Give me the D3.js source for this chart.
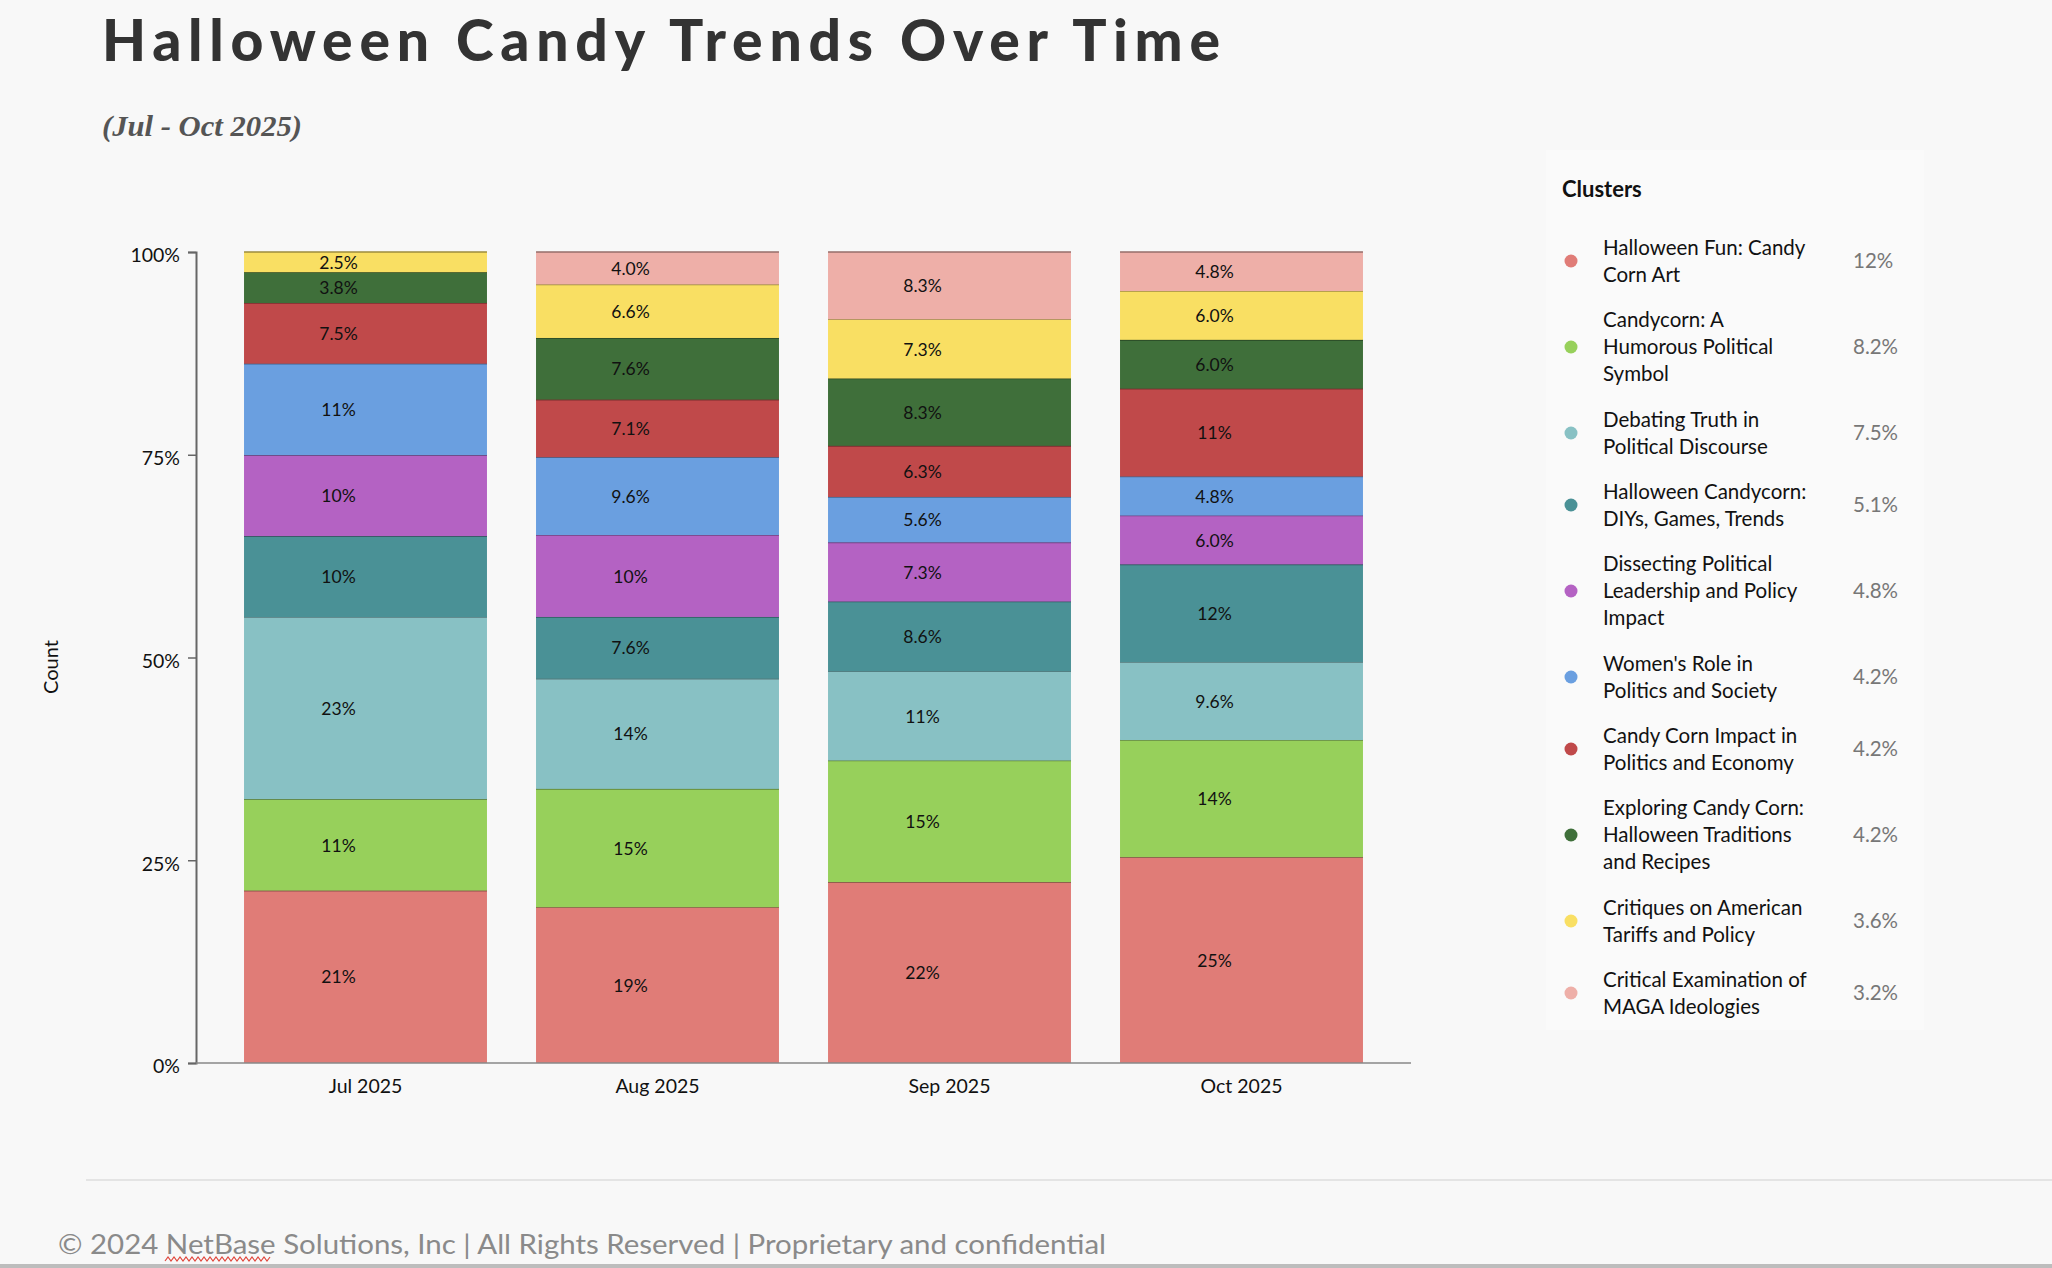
<!DOCTYPE html>
<html>
<head>
<meta charset="utf-8">
<title>Halloween Candy Trends Over Time</title>
<script src="https://cdn.jsdelivr.net/npm/d3@7"></script>
<style>
  body { margin: 0; background: #f8f8f8; }
  svg { display: block; }
</style>
</head>
<body>
<script>
var months = ["Jul 2025", "Aug 2025", "Sep 2025", "Oct 2025"];

// bottom to top, same order as the legend
var clusters = [
  "Halloween Fun: Candy Corn Art",
  "Candycorn: A Humorous Political Symbol",
  "Debating Truth in Political Discourse",
  "Halloween Candycorn: DIYs, Games, Trends",
  "Dissecting Political Leadership and Policy Impact",
  "Women's Role in Politics and Society",
  "Candy Corn Impact in Politics and Economy",
  "Exploring Candy Corn: Halloween Traditions and Recipes",
  "Critiques on American Tariffs and Policy",
  "Critical Examination of MAGA Ideologies"
];
var colors = ["#e07c77", "#97d05b", "#88c1c4", "#4a9196", "#b462c3",
              "#6a9fe0", "#c0494a", "#3f6f3a", "#f9df63", "#eeafa8"];

// percent of each month, one entry per cluster
var julValues = [21.3, 11.3, 22.5, 10.0, 10.0, 11.3, 7.5, 3.8, 2.5, 0];
var augValues = [19.2, 14.6, 13.6, 7.6, 10.1, 9.6, 7.1, 7.6, 6.6, 4.0];
var sepValues = [22.3, 15.0, 11.0, 8.6, 7.3, 5.6, 6.3, 8.3, 7.3, 8.3];
var octValues = [25.3, 14.4, 9.6, 12.0, 6.0, 4.8, 10.8, 6.0, 6.0, 4.8];
var monthValues = [julValues, augValues, sepValues, octValues];

// overall share shown in the legend
var clusterShare = [12, 8.2, 7.5, 5.1, 4.8, 4.2, 4.2, 4.2, 3.6, 3.2];
var yTicks = [0, 0.25, 0.5, 0.75, 1];

var W = 2052, H = 1268;
var svg = d3.select("body")
  .append("svg")
  .attr("width", W)
  .attr("height", H);

svg.append("rect").attr("width", W).attr("height", H).attr("fill", "#f8f8f8");

// title
svg.append("text")
  .attr("x", 102).attr("y", 61)
  .attr("textLength", 1118).attr("lengthAdjust", "spacing")
  .style("font-family", "Lato, 'DejaVu Sans', sans-serif")
  .style("font-weight", 900)
  .style("font-size", "57px")
  .attr("fill", "#333")
  .text("Halloween Candy Trends Over Time");

svg.append("text")
  .attr("x", 102).attr("y", 136)
  .attr("textLength", 200).attr("lengthAdjust", "spacingAndGlyphs")
  .style("font-family", "'Liberation Serif', serif")
  .style("font-weight", "bold")
  .style("font-style", "italic")
  .style("font-size", "29px")
  .attr("fill", "#555")
  .text("(Jul - Oct 2025)");

// stacked data
var table = months.map(function(m, i) {
  var row = { month: m };
  clusters.forEach(function(c, j) { row[c] = monthValues[i][j]; });
  return row;
});
var series = d3.stack().keys(clusters).offset(d3.stackOffsetExpand)(table);

var x = d3.scaleBand().domain(months).range([219.5, 1387.5])
  .paddingInner(0.168).paddingOuter(0.084);
var y = d3.scaleLinear().domain([0, 1]).range([1063, 252]);
var color = d3.scaleOrdinal().domain(clusters).range(colors);
var pct = d3.format(".2r");

var chart = svg.append("g").style("font-family", "Lato, 'Open Sans', sans-serif");

var layer = chart.selectAll("g.layer")
  .data(series)
  .enter()
  .append("g")
  .attr("class", "layer")
  .attr("fill", function(d) { return color(d.key); });

layer.selectAll("rect")
  .data(function(d) { return d.filter(function(p) { return p[1] - p[0] > 0; }); })
  .enter()
  .append("rect")
  .attr("x", function(d) { return x(d.data.month); })
  .attr("width", x.bandwidth())
  .attr("y", function(d) { return y(d[1]); })
  .attr("height", function(d) { return y(d[0]) - y(d[1]); });

// dark edge on top of each segment
layer.selectAll("line")
  .data(function(d) { return d.filter(function(p) { return p[1] - p[0] > 0; }); })
  .enter()
  .append("line")
  .attr("x1", function(d) { return x(d.data.month); })
  .attr("x2", function(d) { return x(d.data.month) + x.bandwidth(); })
  .attr("y1", function(d) { return y(d[1]); })
  .attr("y2", function(d) { return y(d[1]); })
  .attr("stroke", function() { return d3.color(color(d3.select(this.parentNode).datum().key)).darker(1.3); })
  .attr("stroke-width", 1.6);

// segment labels
layer.selectAll("text")
  .data(function(d) {
    var key = d.key;
    return d.filter(function(p) { return p.data[key] > 0; })
            .map(function(p) { return { p: p, v: p.data[key] }; });
  })
  .enter()
  .append("text")
  .attr("x", function(d) { return x(d.p.data.month) + x.bandwidth() / 2 - 27; })
  .attr("y", function(d) { return (y(d.p[0]) + y(d.p[1])) / 2; })
  .attr("dy", "0.38em")
  .attr("text-anchor", "middle")
  .attr("fill", "#111")
  .style("font-size", "17.5px")
  .text(function(d) { return pct(d.v) + "%"; });

// axes
var yAxis = chart.append("g")
  .attr("transform", "translate(196,0)")
  .call(d3.axisLeft(y).tickValues(yTicks).tickFormat(d3.format(".0%")).tickSize(8).tickPadding(8));
yAxis.select(".domain").attr("stroke", "#666").attr("stroke-width", 2);
yAxis.selectAll(".tick line").attr("stroke", "#666").attr("stroke-width", 1.5);
yAxis.selectAll("text").attr("fill", "#111").attr("dy", "0.5em")
  .style("font-size", "19.5px").style("font-family", "Lato, sans-serif");

var xAxis = chart.append("g")
  .attr("transform", "translate(0,1063)")
  .call(d3.axisBottom(x).tickSize(0).tickPadding(16));
xAxis.select(".domain").remove();
xAxis.selectAll("text").attr("fill", "#111").style("font-size", "19.5px").style("font-family", "Lato, sans-serif");

chart.append("line")
  .attr("x1", 196).attr("x2", 1411)
  .attr("y1", 1063).attr("y2", 1063)
  .attr("stroke", "#888").attr("stroke-width", 1.5);

chart.append("text")
  .attr("transform", "translate(58,667) rotate(-90)")
  .attr("text-anchor", "middle")
  .attr("fill", "#111")
  .style("font-size", "20px")
  .text("Count");

// legend
var legend = svg.append("g").style("font-family", "Lato, 'Open Sans', sans-serif");
legend.append("rect")
  .attr("x", 1546).attr("y", 150).attr("width", 378).attr("height", 880)
  .attr("fill", "#fafafa");
legend.append("text")
  .attr("x", 1562).attr("y", 197)
  .attr("fill", "#111")
  .style("font-size", "22px").style("font-weight", "bold")
  .text("Clusters");

var lineH = 27, maxW = 214;
var rowTop = 225;
clusters.forEach(function(name, i) {
  var row = legend.append("g");
  var t = row.append("text")
    .attr("x", 1603)
    .attr("fill", "#111")
    .style("font-size", "20.5px");
  // wrap words to the column width
  var words = name.split(" "), lines = [], cur = "";
  words.forEach(function(w) {
    var test = cur ? cur + " " + w : w;
    t.text(test);
    if (t.node().getComputedTextLength() > maxW && cur) {
      lines.push(cur);
      cur = w;
    } else {
      cur = test;
    }
  });
  lines.push(cur);
  t.text(null);
  var h = lines.length * 28 + 16;
  var cy = rowTop + h / 2;
  lines.forEach(function(l, k) {
    t.append("tspan")
      .attr("x", 1603)
      .attr("y", cy + (k - (lines.length - 1) / 2) * lineH)
      .attr("dy", "0.35em")
      .text(l);
  });
  row.append("circle")
    .attr("cx", 1571).attr("cy", cy).attr("r", 6.5)
    .attr("fill", color(name));
  row.append("text")
    .attr("x", 1853).attr("y", cy).attr("dy", "0.35em")
    .attr("fill", "#777")
    .style("font-size", "20.5px")
    .text(pct(clusterShare[i]) + "%");
  rowTop += h;
});

// footer
svg.append("line")
  .attr("x1", 86).attr("x2", W)
  .attr("y1", 1180).attr("y2", 1180)
  .attr("stroke", "#e4e4e4").attr("stroke-width", 2);

svg.append("text")
  .attr("x", 58).attr("y", 1254)
  .attr("textLength", 1048).attr("lengthAdjust", "spacingAndGlyphs")
  .attr("fill", "#8a8a8a")
  .style("font-family", "Lato, 'DejaVu Sans', sans-serif")
  .style("font-size", "27px")
  .text("\u00a9 2024 NetBase Solutions, Inc | All Rights Reserved | Proprietary and confidential");

// spell-check squiggle under NetBase
var squiggle = d3.range(165, 272, 3).map(function(px, k) { return [px, k % 2 ? 1257 : 1261]; });
svg.append("path")
  .attr("d", d3.line()(squiggle))
  .attr("fill", "none")
  .attr("stroke", "#e0463c")
  .attr("stroke-width", 1.2);

svg.append("rect")
  .attr("x", 0).attr("y", 1264).attr("width", W).attr("height", 4)
  .attr("fill", "#bdbdbd");
</script>
</body>
</html>
